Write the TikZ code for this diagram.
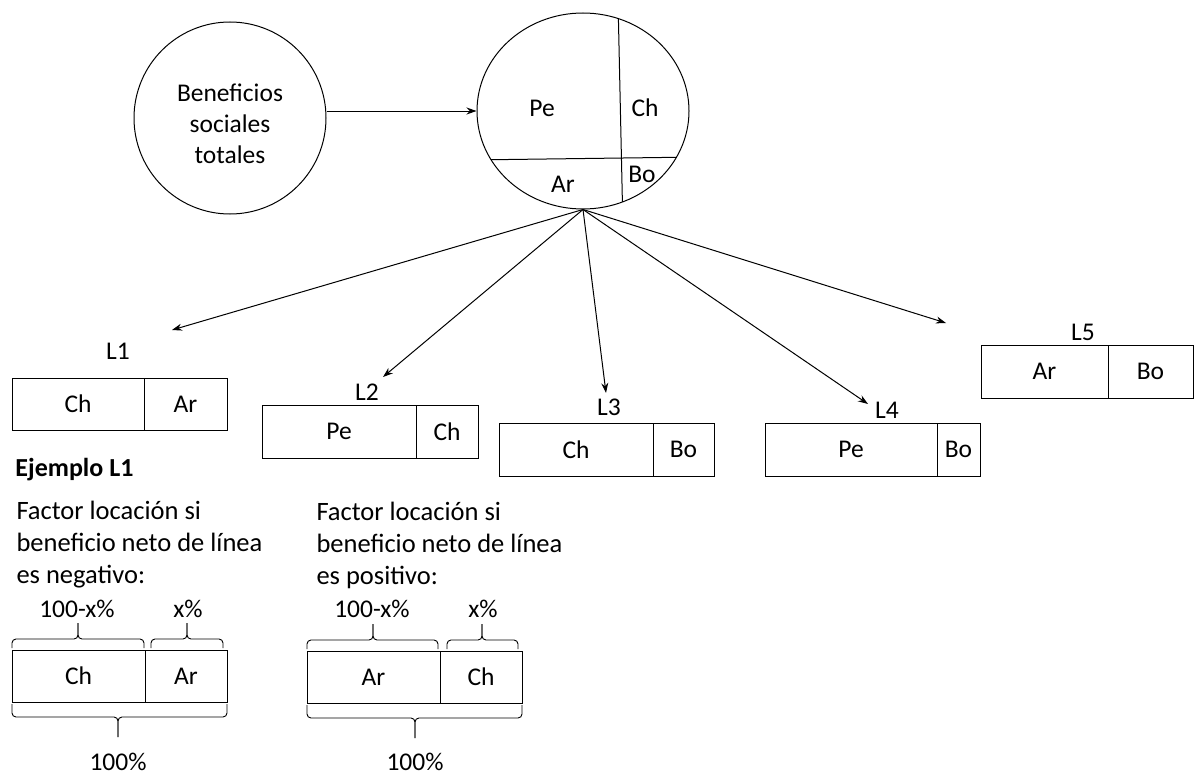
\documentclass[tikz,border=0pt]{standalone}
\usepackage{fontspec}
\setmainfont{Carlito}
\usetikzlibrary{shapes.geometric,arrows.meta}
\begin{document}
\begin{tikzpicture}[x=1pt,y=-1pt, line width=1pt,
  font=\fontsize{25.5}{30}\selectfont,
  cell/.style={draw, inner sep=0pt, outer sep=0pt, anchor=north west},
  arr/.style={-{Stealth[length=10pt,width=7pt]}},
  brc/.style={rounded corners=4pt, line width=0.9pt},
  txt/.style={inner sep=0pt}]
\useasboundingbox (0,0) rectangle (1197,776);

% circles
\node[draw, circle, minimum size=192pt] (bst) at (230,118) {};
\node[txt, align=center, font=\fontsize{25.5}{31}\selectfont] (bstt) at (230,124) {Beneficios\\sociales\\totales};
\node[draw, ellipse, minimum width=212pt, minimum height=196pt, inner sep=0pt] (pie) at (583,111) {};
\begin{scope}
  \clip (583,111) ellipse [x radius=106, y radius=98];
  \draw (618,0) -- (623,230);
  \draw (470,160) -- (700,157);
\end{scope}
\node[txt] (ppe) at (542,108) {Pe};
\node[txt] (pch) at (645,108) {Ch};
\node[txt] (par) at (563,184) {Ar};
\node[txt] (pbo) at (642,174) {Bo};

\draw[arr] (bst.east |- pie.west) -- (pie.west);

% arrow ends
\coordinate (e1) at (172,330);
\coordinate (e2) at (383,377);
\coordinate (e3) at (606,393);
\coordinate (e4) at (868,404);
\coordinate (e5) at (946,323);
\foreach \i in {1,...,5} \draw[arr] (pie.south) -- (e\i);

% labels
\node[txt] (l1) at (118,351) {L1};
\node[txt] (l2) at (367,392) {L2};
\node[txt] (l3) at (609,407) {L3};
\node[txt] (l4) at (887,410) {L4};
\node[txt] (l5) at (1083,332) {L5};

% L boxes
\node[cell, minimum width=132pt, minimum height=52pt] (b1a) at (12,378) {Ch};
\node[cell, minimum width=83pt, minimum height=52pt] (b1b) at (b1a.north east) {Ar};
\node[cell, minimum width=154pt, minimum height=53pt] (b2a) at (262,405) {Pe};
\node[cell, minimum width=62pt, minimum height=53pt] (b2b) at (b2a.north east) {Ch};
\node[cell, minimum width=154pt, minimum height=53pt] (b3a) at (499,423) {Ch};
\node[cell, minimum width=61pt, minimum height=53pt] (b3b) at (b3a.north east) {Bo};
\node[cell, minimum width=172pt, minimum height=53pt] (b4a) at (765,423) {Pe};
\node[cell, minimum width=43pt, minimum height=53pt] (b4b) at (b4a.north east) {Bo};
\node[cell, minimum width=127pt, minimum height=53pt] (b5a) at (981,345) {Ar};
\node[cell, minimum width=85pt, minimum height=53pt] (b5b) at (b5a.north east) {Bo};

% example texts
\node[txt, anchor=west, font=\fontsize{26}{30}\selectfont\bfseries] (ej) at (15,470) {Ejemplo L1};
\node[txt, anchor=west, align=left, font=\fontsize{26.5}{32}\selectfont] (fneg) at (16,545)
  {Factor locación si\\beneficio neto de línea\\es negativo:};
\node[txt, anchor=west, align=left, font=\fontsize{26.5}{32}\selectfont] (fpos) at (316,545)
  {Factor locación si\\beneficio neto de línea\\es positivo:};

% example 1
\node[cell, minimum width=133pt, minimum height=52pt] (x1a) at (12,650) {Ch};
\node[cell, minimum width=82pt, minimum height=52pt] (x1b) at (x1a.north east) {Ar};
\node[txt] (p1a) at (77,609) {100-x\%};
\node[txt] (p1b) at (188,609) {x\%};
\node[txt] (p1c) at (118,762) {100\%};
\draw[brc] (12,648) |- (78,639) -- (78,623);
\draw[brc] (78,623) -- (78,639) -| (144,648);
\draw[brc] (151,648) |- (187,639) -- (187,623);
\draw[brc] (187,623) -- (187,639) -| (223,648);
\draw[brc] (12,704) |- (118,717) -- (118,737);
\draw[brc] (118,737) -- (118,717) -| (227,704);

% example 2
\node[cell, minimum width=133pt, minimum height=52pt] (x2a) at (307,651) {Ar};
\node[cell, minimum width=82pt, minimum height=52pt] (x2b) at (x2a.north east) {Ch};
\node[txt] (p2a) at (372,609) {100-x\%};
\node[txt] (p2b) at (483,609) {x\%};
\node[txt] (p2c) at (415,762) {100\%};
\draw[brc] (307,649) |- (373,640) -- (373,624);
\draw[brc] (373,624) -- (373,640) -| (438,649);
\draw[brc] (447,649) |- (482,640) -- (482,624);
\draw[brc] (482,624) -- (482,640) -| (518,649);
\draw[brc] (307,705) |- (415,718) -- (415,738);
\draw[brc] (415,738) -- (415,718) -| (522,705);
\end{tikzpicture}
\end{document}
